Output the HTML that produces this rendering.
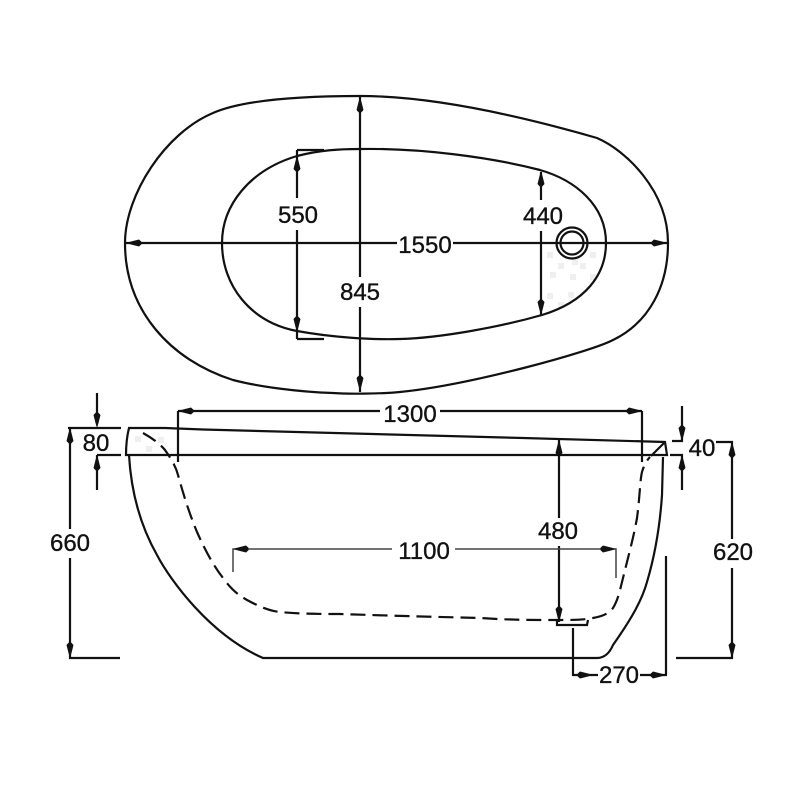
<!DOCTYPE html>
<html>
<head>
<meta charset="utf-8">
<style>
html,body{margin:0;padding:0;background:#fff;width:800px;height:800px;overflow:hidden}
svg{display:block}
text{font-family:"Liberation Sans",sans-serif;font-size:24px;fill:#111;stroke:#111;stroke-width:.35px;text-anchor:middle}
</style>
</head>
<body>
<svg width="800" height="800" viewBox="0 0 800 800" xmlns="http://www.w3.org/2000/svg">
<rect width="800" height="800" fill="#fff"/>
<defs>
<path id="a" d="M0 0L-1.500 5L-3.500 13L-1.200 15.500L1.200 15.500L3.500 13L1.500 5Z" fill="#111"/>
</defs>

<g fill="#ececec" opacity="0.8">
<rect x="547" y="252" width="6" height="6"/><rect x="572" y="259" width="6" height="6"/><rect x="590" y="252" width="6" height="6"/>
<rect x="558" y="263" width="6" height="6"/><rect x="580" y="263" width="6" height="6"/>
<rect x="550" y="272" width="6" height="6"/><rect x="570" y="274" width="6" height="6"/><rect x="590" y="274" width="6" height="6"/>
<rect x="547" y="293" width="6" height="6"/><rect x="568" y="292" width="6" height="6"/>
<rect x="558" y="302" width="6" height="6"/>
<rect x="135" y="436" width="6" height="6"/><rect x="158" y="437" width="6" height="6"/><rect x="146" y="446" width="6" height="6"/>
</g>

<!-- Top view -->
<g fill="none" stroke="#111" stroke-width="2.200">
<path d="M125 243C125 195 165 133 213 113C245 99 310 96 360 96C420 96 500 110 597 138C625 150 668 190 668 243C668 285 650 322 613 340C590 352 470 385 400 392C380 394 345 394 333 393C300 392 260 387 233 380C170 360 125 310 125 243Z"/>
<path d="M222 243C222 205 250 170 297 156C320 150 340 149 360 149C420 148 490 157 540 170C575 180 606 205 606 243C606 275 585 302 542 315C500 327 440 338 400 339C370 340 330 337 297 331C250 322 222 285 222 243Z"/>
<path d="M125 243H397M453 243H668"/>
<path d="M360 96V277M360 307V392"/>
<path d="M297 150V198M297 230V339M297 150H324M297 339H324"/>
<path d="M541 172V200M541 231V316"/>
<circle cx="572" cy="243" r="15.500"/>
<circle cx="572" cy="243" r="11.500"/>
</g>
<use href="#a" transform="translate(360 97)"/>
<use href="#a" transform="translate(360 391) rotate(180)"/>
<use href="#a" transform="translate(297 156)"/>
<use href="#a" transform="translate(297 332) rotate(180)"/>
<use href="#a" transform="translate(541 171)"/>
<use href="#a" transform="translate(541 315) rotate(180)"/>
<use href="#a" transform="translate(126 243) rotate(-90)"/>
<use href="#a" transform="translate(667 243) rotate(90)"/>

<!-- Side view -->
<g fill="none" stroke="#111" stroke-width="2.200">
<path d="M129 428H165L203 429.500L523 438L665 442L667 455H126Q126 440 129 428Z"/>
<path d="M129 455C131 490 140 525 157 555C170 580 210 635 263 658H597C605 658 610 652 613 645C632 618 642 600 647 582C655 555 660 525 662 495L663 457"/>
<path d="M651 456L664 443"/>
<path d="M178 411V462M178 411H380M440 411H642M642 411V462"/>
<path d="M68 428H121M97 393V420M97 455V490M97 455H121"/>
<path d="M70 428V529M70 558V658H120"/>
<path d="M559 440V518M559 546V622"/>
<path d="M557 620V625H587L588 620"/>
<path d="M573 628V675H598M640 675H667"/>
<path d="M666 556V675"/>
<path d="M682 406V441H672M682 490V455H670"/>
<path d="M716 442H732V539M732 568V658H676"/>
<path d="M233 572V549H392M455 549H616V578" stroke="#444" stroke-width="1.500"/>
<path stroke-dasharray="15 7" d="M143 433C152 438 160 444 165 450C172 460 176 467 178 475C185 500 190 515 197 532C205 550 213 565 223 578C231 589 238 595 247 600C260 607 270 611 280 612C300 614 320 614 340 614C400 616 440 617 480 618C510 620 530 620 557 620C570 620 585 620 593 618C605 616 610 612 613 608C618 600 620 590 623 578C630 550 634 535 637 518C640 495 640 480 642 472C644 465 647 460 650 457"/>
</g>
<use href="#a" transform="translate(178 411) rotate(-90)"/>
<use href="#a" transform="translate(642 411) rotate(90)"/>
<use href="#a" transform="translate(233 549) rotate(-90)"/>
<use href="#a" transform="translate(616 549) rotate(90)"/>
<use href="#a" transform="translate(70 428)"/>
<use href="#a" transform="translate(70 658) rotate(180)"/>
<use href="#a" transform="translate(97 428) rotate(180)"/>
<use href="#a" transform="translate(97 455)"/>
<use href="#a" transform="translate(559 440)"/>
<use href="#a" transform="translate(559 622) rotate(180)"/>
<use href="#a" transform="translate(682 441) rotate(180)"/>
<use href="#a" transform="translate(682 455)"/>
<use href="#a" transform="translate(732 442)"/>
<use href="#a" transform="translate(732 658) rotate(180)"/>
<use href="#a" transform="translate(593 675) rotate(90)"/>
<use href="#a" transform="translate(666 675) rotate(90)"/>

<text x="298" y="223">550</text>
<text x="360" y="300">845</text>
<text x="425" y="253">1550</text>
<text x="543" y="224">440</text>
<text x="410" y="422">1300</text>
<text x="96" y="451">80</text>
<text x="702" y="456">40</text>
<text x="70" y="551">660</text>
<text x="424" y="559">1100</text>
<text x="558" y="539">480</text>
<text x="733" y="560">620</text>
<text x="619" y="683">270</text>
</svg>
</body>
</html>
